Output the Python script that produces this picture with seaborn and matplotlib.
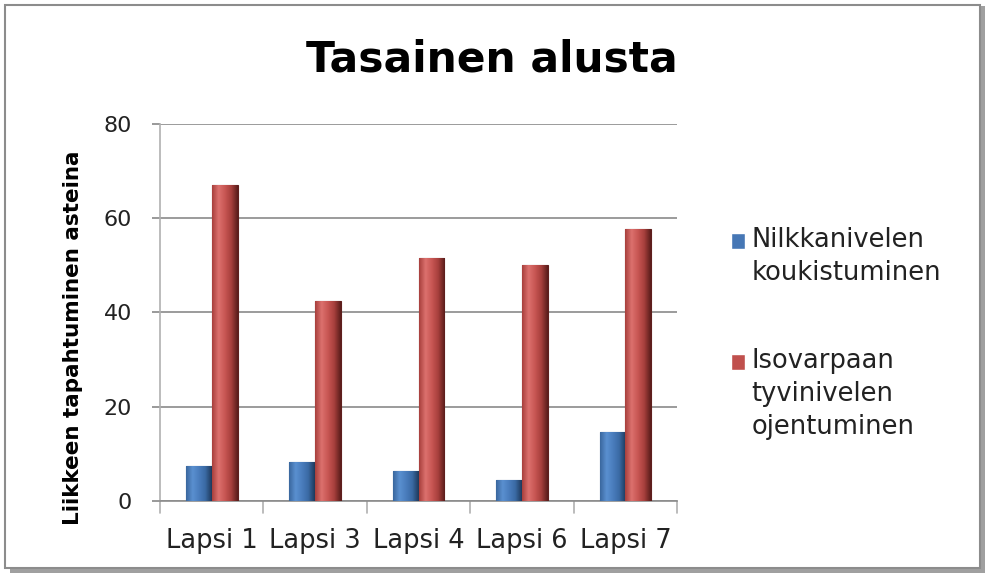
import matplotlib
matplotlib.use("Agg")
import matplotlib.pyplot as plt
import seaborn as sns
import pandas as pd
import numpy as np
from matplotlib.patches import Rectangle
from matplotlib.legend_handler import HandlerPatch
from matplotlib.colors import LinearSegmentedColormap

categories = ["Lapsi 1", "Lapsi 3", "Lapsi 4", "Lapsi 6", "Lapsi 7"]
nilkka = [7.5, 8.4, 6.4, 4.4, 14.7]
isovarvas = [67, 42.5, 51.6, 50, 57.8]
series_names = ["Nilkkanivelen\nkoukistuminen", "Isovarpaan\ntyvinivelen\nojentuminen"]
title = "Tasainen alusta"
ylabel = "Liikkeen tapahtuminen asteina"
yticks = [0, 20, 40, 60, 80]

df = pd.DataFrame({
    "cat": categories * 2,
    "val": nilkka + isovarvas,
    "series": [series_names[0]] * len(categories) + [series_names[1]] * len(categories),
})

sns.set_theme(style="white")
plt.rcParams["font.family"] = ["DejaVu Sans"]

fig = plt.figure(figsize=(9.9, 5.76), dpi=100)
# frame with shadow
fig.patches.append(Rectangle((0.010, 0.006), 0.985, 0.984, transform=fig.transFigure,
                             facecolor="#a0a0a0", edgecolor="none", zorder=-3))
fig.patches.append(Rectangle((0.005, 0.014), 0.985, 0.978, transform=fig.transFigure,
                             facecolor="white", edgecolor="#8c8c8c", linewidth=1.5, zorder=-2))

ax = fig.add_axes([0.1616, 0.130, 0.5224, 0.655])
palette = {series_names[0]: "#4677b5", series_names[1]: "#c0504d"}
sns.barplot(data=df, x="cat", y="val", hue="series", palette=palette, width=0.5,
            ax=ax, saturation=1, legend=True)
edge = {series_names[0]: "#24466f", series_names[1]: "#5e1f1d"}
grad = {
    series_names[0]: ["#3a679e", "#5a90d0", "#4a7dbd", "#3a6aa4", "#1f3a5c"],
    series_names[1]: ["#a8403d", "#dc716e", "#c85653", "#a63f3c", "#5a1d1b"],
}
for cont, name in zip(ax.containers, series_names):
    cmap = LinearSegmentedColormap.from_list(name, grad[name])
    g = np.linspace(0, 1, 64)[np.newaxis, :]
    for b in cont:
        b.set_edgecolor(edge[name])
        b.set_linewidth(0.8)
        b.set_zorder(3)
        x0, y0, w, h = b.get_x(), b.get_y(), b.get_width(), b.get_height()
        im = ax.imshow(g, extent=[x0, x0 + w, y0, y0 + h], aspect="auto", cmap=cmap,
                       zorder=3.2, interpolation="bilinear")
        im.set_clip_path(b)

ax.set_ylim(0, 80)
ax.set_xlim(-0.5, 4.5)
ax.set_aspect("auto")
ax.set_yticks(yticks)
ax.yaxis.grid(True, color="#8a8a8a", linewidth=1.2)
ax.set_axisbelow(True)
for s in ["top", "right"]:
    ax.spines[s].set_visible(False)
ax.spines["left"].set_color("#b0b0b0")
ax.spines["bottom"].set_color("#8c8c8c")
ax.spines["left"].set_linewidth(1.2)
ax.spines["bottom"].set_linewidth(1.2)
ax.tick_params(axis="y", left=True, length=6, color="#8c8c8c", labelsize=16, pad=14, labelcolor="#222222")
ax.set_xticks([i for i in range(len(categories))])
ax.set_xticklabels(categories)
ax.tick_params(axis="x", bottom=False, labelsize=18.5, pad=13, labelcolor="#222222")
for xb in [i - 0.5 for i in range(len(categories) + 1)]:
    ax.plot([xb, xb], [0, -2.6], color="#b0b0b0", linewidth=1.2, clip_on=False, zorder=1,
            transform=ax.transData)
ax.set_xlabel("")
ax.set_ylabel(ylabel, fontsize=15.5, fontweight="bold", color="black")
ax.yaxis.set_label_coords(-0.148, 0.434)
fig.text(0.497, 0.875, title, ha="center", va="baseline", fontsize=30.5, fontweight="bold",
         color="black")

# legend handles aligned with the first line of each label
leg_fs = 18.5
line_step = 23.5  # points between baselines


def make_patch_func(n_lines):
    def patch_func(legend, orig_handle, xdescent, ydescent, width, height, fontsize):
        off = 0.5 * (n_lines - 1) * line_step
        return Rectangle((-xdescent, -ydescent + off), width, height)
    return patch_func


handles, labels = ax.get_legend_handles_labels()
hmap = {h: HandlerPatch(patch_func=make_patch_func(lab.count("\n") + 1))
        for h, lab in zip(handles, labels)}
leg = ax.legend(handles, labels, handler_map=hmap, loc="center left",
                bbox_to_anchor=(1.104, 0.445), frameon=False, fontsize=leg_fs,
                labelspacing=2.4, handlelength=0.55, handleheight=0.55, handletextpad=0.25,
                borderaxespad=0, borderpad=0)
for t in leg.get_texts():
    t.set_color("#222222")
    t.set_linespacing(1.35)

fig.savefig("out.png", dpi=100)
